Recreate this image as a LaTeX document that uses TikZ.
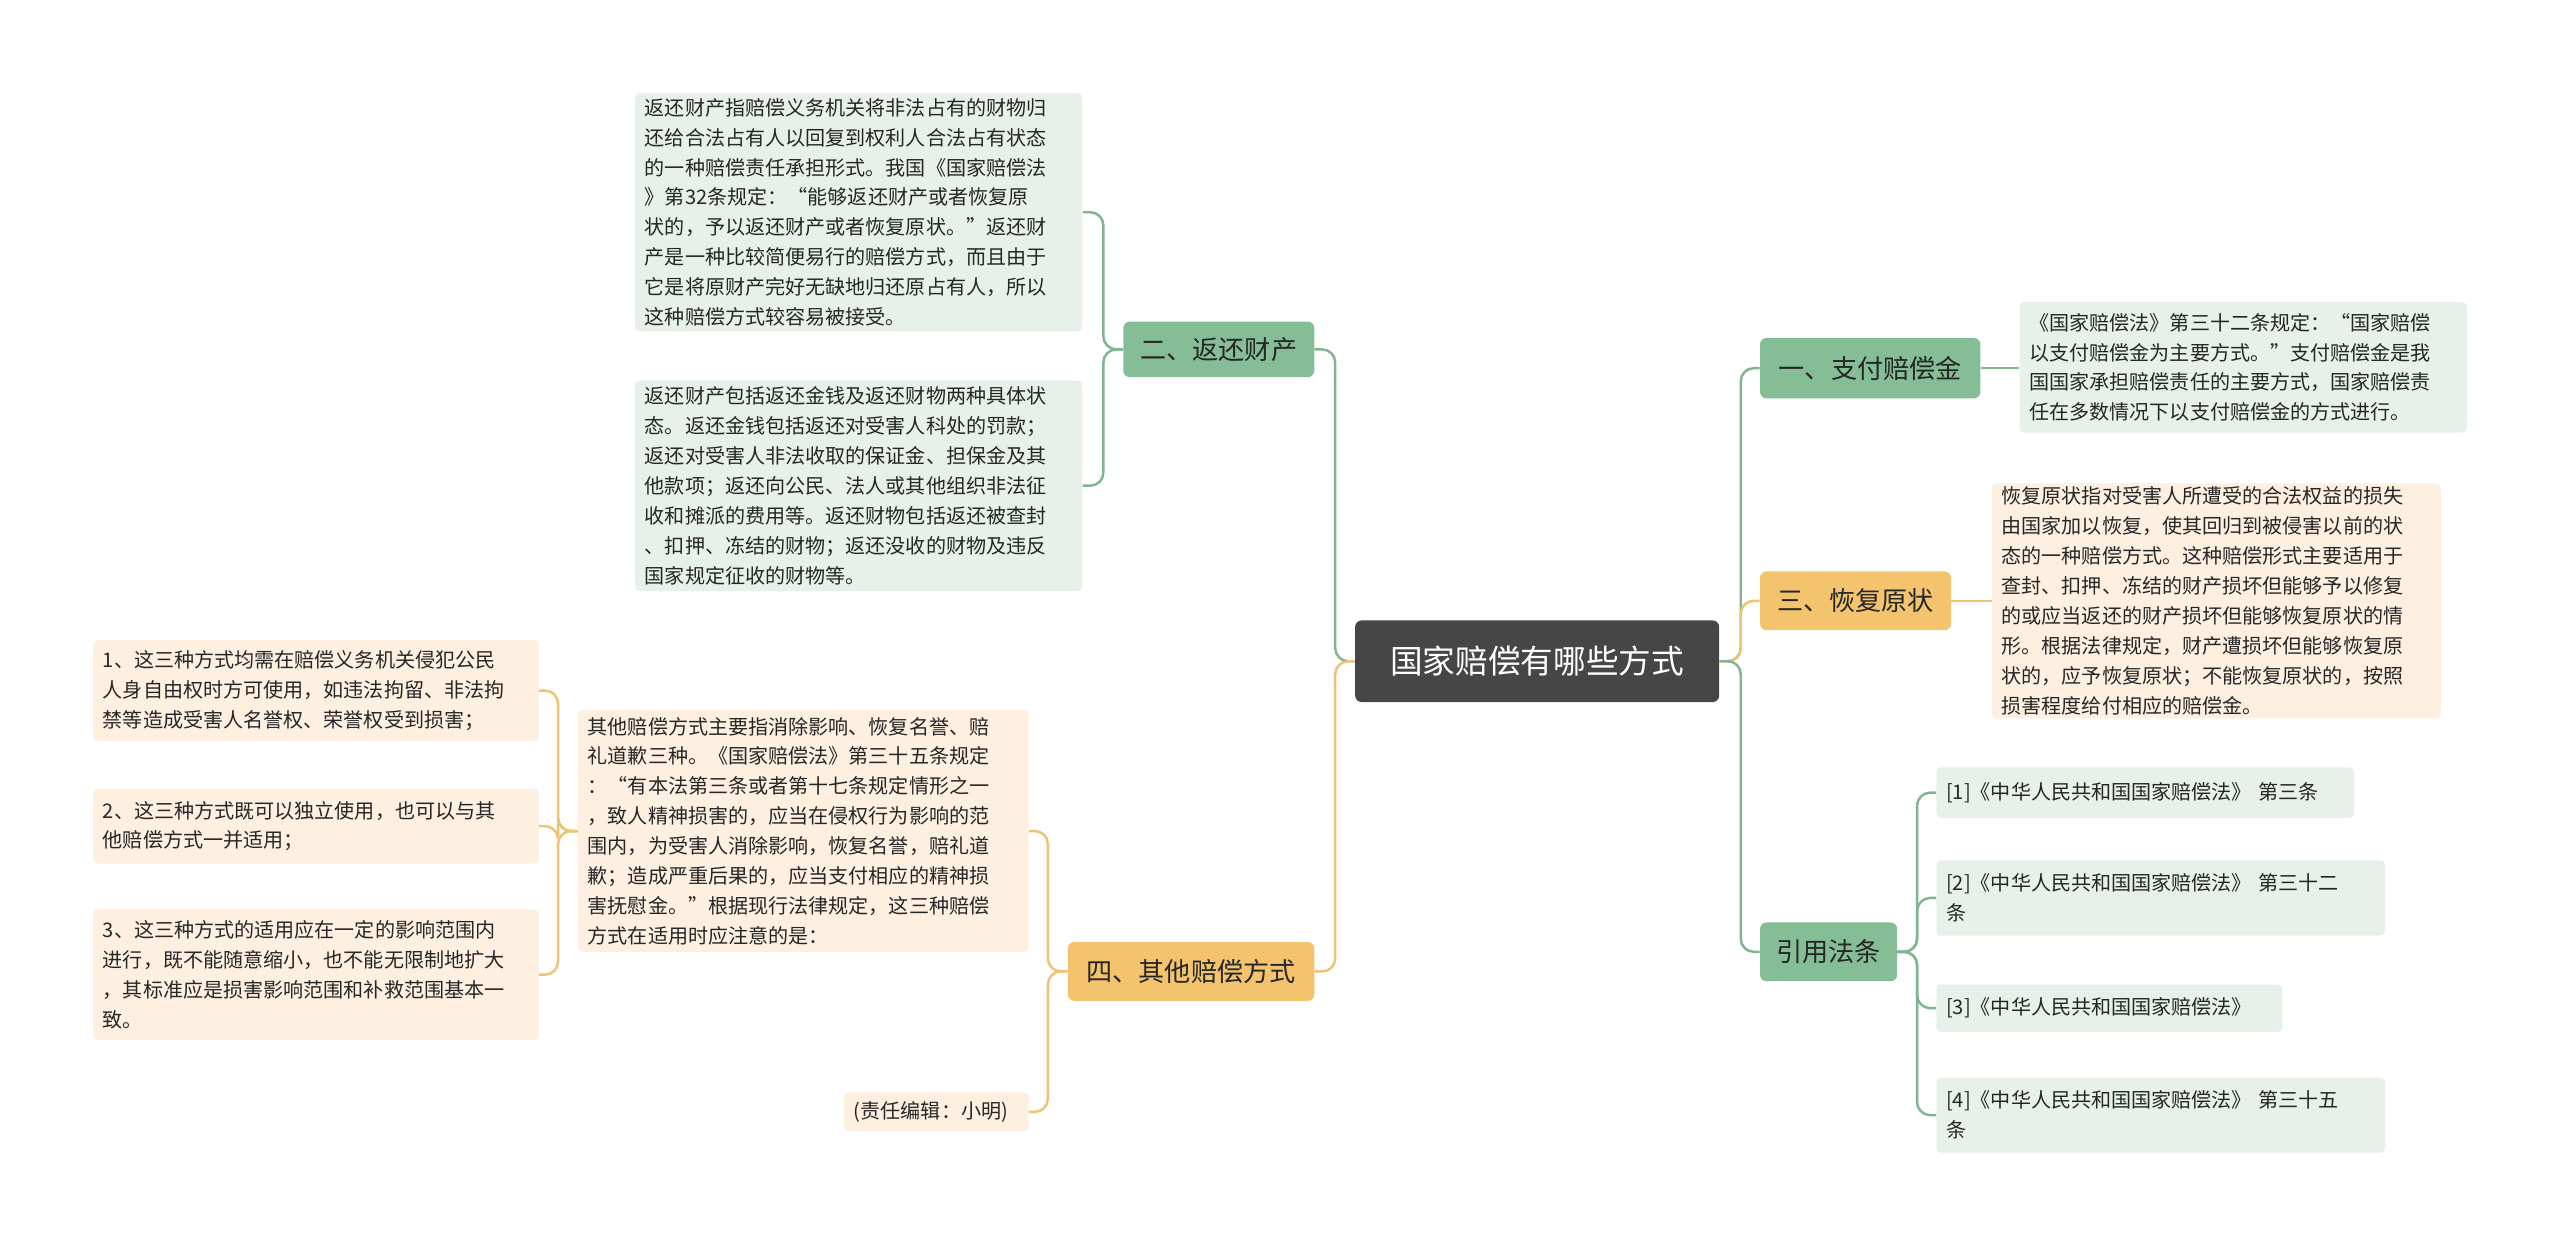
\documentclass[tikz,border=0pt]{standalone}
\usepackage{fontspec}
\setmainfont{Noto Sans CJK SC}
\definecolor{gfill}{HTML}{85BD97}
\definecolor{ofill}{HTML}{F3C36E}
\definecolor{lg}{HTML}{E7F0E9}
\definecolor{lo}{HTML}{FDF0E1}
\definecolor{gline}{HTML}{7FB590}
\definecolor{oline}{HTML}{F0C274}
\definecolor{rootc}{HTML}{464646}
\tikzset{
 txt/.style={rectangle,rounded corners=3pt,inner sep=0pt,align=left,font=\fontsize{12.3}{18.3}\selectfont,text=black!85},
 gbox/.style={txt,fill=lg},
 obox/.style={txt,fill=lo},
 gbr/.style={rectangle,rounded corners=4pt,fill=gfill,font=\fontsize{16}{18}\selectfont,text=black!85,inner sep=0pt},
 obr/.style={rectangle,rounded corners=4pt,fill=ofill,font=\fontsize{16}{18}\selectfont,text=black!85,inner sep=0pt},
 gl/.style={draw=gline,line width=1.5pt,rounded corners=8pt},
 ol/.style={draw=oline,line width=1.5pt,rounded corners=8pt},
}
\newcommand{\bx}[7]{\node[#1,minimum width=#4-#2,minimum height=#5-#3,text width=#4-#2-12] (#6) at ({(#2+#4)/2},{(#3+#5)/2}) {#7};}
\begin{document}
\begin{tikzpicture}[x=1pt,y=-1pt]
\useasboundingbox[fill=white] (0,0) rectangle (1568,763);
% root
\node[rectangle,rounded corners=4pt,fill=rootc,text=white,font=\fontsize{20}{22}\selectfont,minimum width=223,minimum height=50] (root) at (941.5,405) {国家赔偿有哪些方式};
% left branches
\node[gbr,minimum width=117,minimum height=34] (b2) at (746.5,214) {二、返还财产};
\node[obr,minimum width=151,minimum height=36] (b4) at (729.5,595) {四、其他赔偿方式};
\bx{gbox}{389}{57}{663}{203}{t1}{返还财产指赔偿义务机关将非法占有的财物归\\还给合法占有人以回复到权利人合法占有状态\\的一种赔偿责任承担形式。我国《国家赔偿法\\》第32条规定：“能够返还财产或者恢复原\\状的，予以返还财产或者恢复原状。”返还财\\产是一种比较简便易行的赔偿方式，而且由于\\它是将原财产完好无缺地归还原占有人，所以\\这种赔偿方式较容易被接受。}
\bx{gbox}{389}{233}{663}{362}{t2}{返还财产包括返还金钱及返还财物两种具体状\\态。返还金钱包括返还对受害人科处的罚款；\\返还对受害人非法收取的保证金、担保金及其\\他款项；返还向公民、法人或其他组织非法征\\收和摊派的费用等。返还财物包括返还被查封\\、扣押、冻结的财物；返还没收的财物及违反\\国家规定征收的财物等。}
\bx{obox}{354}{435}{630}{583}{t4}{其他赔偿方式主要指消除影响、恢复名誉、赔\\礼道歉三种。《国家赔偿法》第三十五条规定\\：“有本法第三条或者第十七条规定情形之一\\，致人精神损害的，应当在侵权行为影响的范\\围内，为受害人消除影响，恢复名誉，赔礼道\\歉；造成严重后果的，应当支付相应的精神损\\害抚慰金。”根据现行法律规定，这三种赔偿\\方式在适用时应注意的是：}
\bx{obox}{517}{669}{630}{693}{ed}{(责任编辑：小明)}
\bx{obox}{57}{392}{330}{454}{l1}{1、这三种方式均需在赔偿义务机关侵犯公民\\人身自由权时方可使用，如违法拘留、非法拘\\禁等造成受害人名誉权、荣誉权受到损害；}
\bx{obox}{57}{483}{330}{529}{l2}{2、这三种方式既可以独立使用，也可以与其\\他赔偿方式一并适用；}
\bx{obox}{57}{557}{330}{637}{l3}{3、这三种方式的适用应在一定的影响范围内\\进行，既不能随意缩小，也不能无限制地扩大\\，其标准应是损害影响范围和补救范围基本一\\致。}
% right
\node[gbr,minimum width=135,minimum height=37] (b1) at (1145.5,225.5) {一、支付赔偿金};
\node[obr,minimum width=117,minimum height=36] (b3) at (1136.5,368) {三、恢复原状};
\node[gbr,minimum width=84,minimum height=36] (b5) at (1120,583) {引用法条};
\bx{gbox}{1237}{185}{1511}{265}{r1}{《国家赔偿法》第三十二条规定：“国家赔偿\\以支付赔偿金为主要方式。”支付赔偿金是我\\国国家承担赔偿责任的主要方式，国家赔偿责\\任在多数情况下以支付赔偿金的方式进行。}
\bx{obox}{1220}{296}{1495}{440}{r3}{恢复原状指对受害人所遭受的合法权益的损失\\由国家加以恢复，使其回归到被侵害以前的状\\态的一种赔偿方式。这种赔偿形式主要适用于\\查封、扣押、冻结的财产损坏但能够予以修复\\的或应当返还的财产损坏但能够恢复原状的情\\形。根据法律规定，财产遭损坏但能够恢复原\\状的，应予恢复原状；不能恢复原状的，按照\\损害程度给付相应的赔偿金。}
\bx{gbox}{1186}{470}{1442}{501}{f1}{[1]《中华人民共和国国家赔偿法》 第三条}
\bx{gbox}{1186}{527}{1461}{573}{f2}{[2]《中华人民共和国国家赔偿法》 第三十二\\条}
\bx{gbox}{1186}{603}{1398}{632}{f3}{[3]《中华人民共和国国家赔偿法》}
\bx{gbox}{1186}{660}{1461}{706}{f4}{[4]《中华人民共和国国家赔偿法》 第三十五\\条}
% connectors
\draw[gl] (root.west) -- ++(-12,0) |- (b2.east);
\draw[ol] (root.west) -- ++(-12,0) |- (b4.east);
\draw[gl] (b2.west) -- ++(-12,0) |- (t1.east);
\draw[gl] (b2.west) -- ++(-12,0) |- (t2.east);
\draw[ol] (b4.west) -- ++(-12,0) |- (t4.east);
\draw[ol] (b4.west) -- ++(-12,0) |- (ed.east);
\draw[ol] (t4.west) -- ++(-12,0) |- (l1.east);
\draw[ol] (t4.west) -- ++(-12,0) |- (l2.east);
\draw[ol] (t4.west) -- ++(-12,0) |- (l3.east);
\draw[gl] (root.east) -- ++(13,0) |- (b1.west);
\draw[ol] (root.east) -- ++(13,0) |- (b3.west);
\draw[gl] (root.east) -- ++(13,0) |- (b5.west);
\draw[gl] (b1.east) -- (r1.west|-b1.east);
\draw[ol] (b3.east) -- (r3.west|-b3.east);
\draw[gl] (b5.east) -- ++(12,0) |- (f1.west);
\draw[gl] (b5.east) -- ++(12,0) |- (f2.west);
\draw[gl] (b5.east) -- ++(12,0) |- (f3.west);
\draw[gl] (b5.east) -- ++(12,0) |- (f4.west);
\end{tikzpicture}
\end{document}
